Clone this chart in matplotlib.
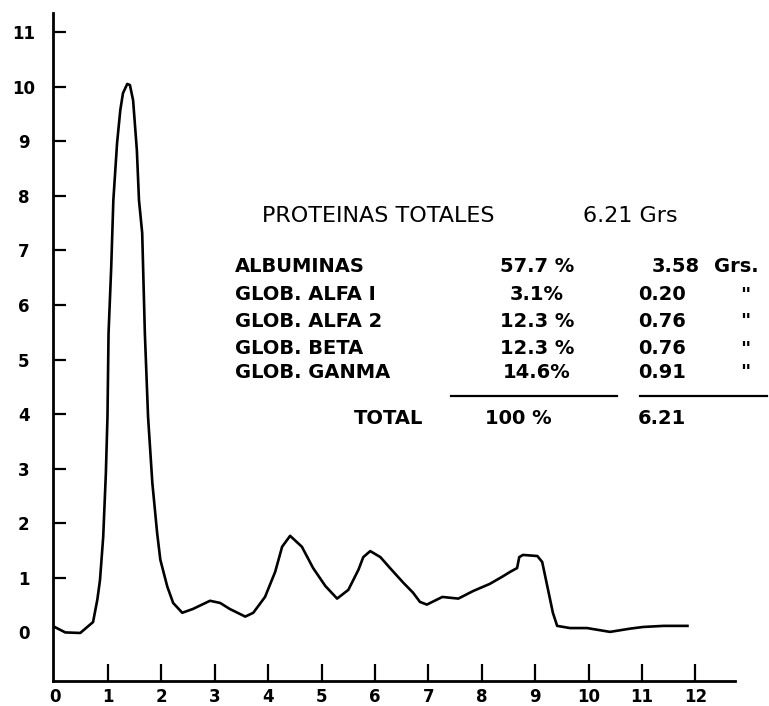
import numpy as np
import matplotlib
matplotlib.use("Agg")
import matplotlib.pyplot as plt
from matplotlib.lines import Line2D

# electrophoresis trace (distance, density)
trace_x = [0.00, 0.20, 0.48, 0.72, 0.80, 0.85, 0.91, 0.96, 0.99, 1.01,
           1.06, 1.10, 1.17, 1.23, 1.28, 1.36, 1.41, 1.47, 1.54, 1.58,
           1.64, 1.69, 1.75, 1.83, 1.92, 1.98, 2.11, 2.22, 2.39, 2.59,
           2.91, 3.10, 3.28, 3.57, 3.72, 3.94, 4.13, 4.26, 4.41, 4.63,
           4.84, 5.07, 5.29, 5.50, 5.69, 5.78, 5.91, 6.10, 6.28, 6.53,
           6.71, 6.84, 6.97, 7.26, 7.56, 7.84, 8.15, 8.38, 8.53, 8.66,
           8.70, 8.77, 9.04, 9.13, 9.24, 9.33, 9.41, 9.65, 9.97, 10.40,
           10.78, 11.02, 11.40, 11.85]
trace_y = [0.10, 0.00, -0.01, 0.19, 0.60, 0.96, 1.75, 2.92, 3.95, 5.48,
           6.69, 7.92, 8.97, 9.57, 9.88, 10.05, 10.03, 9.75, 8.84, 7.92,
           7.32, 5.48, 3.95, 2.74, 1.82, 1.33, 0.84, 0.54, 0.36, 0.43,
           0.58, 0.54, 0.43, 0.29, 0.36, 0.65, 1.11, 1.57, 1.77, 1.57,
           1.18, 0.85, 0.62, 0.78, 1.15, 1.38, 1.49, 1.38, 1.18, 0.91,
           0.73, 0.56, 0.51, 0.65, 0.62, 0.76, 0.89, 1.02, 1.11, 1.18,
           1.38, 1.42, 1.40, 1.29, 0.78, 0.36, 0.12, 0.08, 0.08, 0.01,
           0.07, 0.10, 0.12, 0.12]

x_ticks = list(range(0, 13))
y_ticks = list(range(0, 12))

fractions = ["ALBUMINAS", "GLOB. ALFA I", "GLOB. ALFA 2", "GLOB. BETA", "GLOB. GANMA"]
pct_labels = ["57.7 %", "3.1%", "12.3 %", "12.3 %", "14.6%"]
grams = [3.58, 0.20, 0.76, 0.76, 0.91]
gram_units = ["Grs.", '"', '"', '"', '"']
total_pct = "100 %"
total_grams = 6.21

W, H = 769, 706
fig = plt.figure(figsize=(W / 100, H / 100), dpi=100)


def fx(px):
    return px / W


def fy(py):
    return 1 - py / H


# axes box: left spine at x=53 px, bottom spine at y=681 px
ax = fig.add_axes([fx(53), fy(681), (735 - 53) / W, (681 - 13) / H])
ax.plot(trace_x, trace_y, color="black", lw=1.9, solid_joinstyle="round")

ax.set_xlim(-0.03, 12.74)
ax.set_ylim(-0.89, 11.35)
ax.spines["top"].set_visible(False)
ax.spines["right"].set_visible(False)
for s in ("left", "bottom"):
    ax.spines[s].set_linewidth(2.0)

ax.set_xticks(x_ticks)
ax.set_xticklabels([str(v) for v in x_ticks])
ax.set_yticks(y_ticks)
ax.set_yticklabels([str(v) for v in y_ticks])
ax.tick_params(axis="x", direction="in", length=12, width=1.6, pad=5,
               labelsize=12)
ax.tick_params(axis="y", direction="in", length=9, width=1.6, pad=21,
               labelsize=12)
for lab in ax.get_yticklabels():
    lab.set_horizontalalignment("center")
    lab.set_fontweight("bold")
for lab in ax.get_xticklabels():
    lab.set_fontweight("bold")
# no tick mark at the origin
ax.xaxis.get_major_ticks()[0].tick1line.set_visible(False)
ax.yaxis.get_major_ticks()[0].tick1line.set_visible(False)

# table of fractions
fig.text(fx(262), fy(216), "PROTEINAS TOTALES", fontsize=16,
         ha="left", va="center")
fig.text(fx(583), fy(216), "6.21 Grs", fontsize=16, ha="left", va="center")

row_y = [267, 295, 322, 349, 373]
fs = 14
for i, name in enumerate(fractions):
    y = fy(row_y[i])
    fig.text(fx(235), y, name, fontsize=fs, fontweight="bold",
             ha="left", va="center")
    fig.text(fx(537), y, pct_labels[i], fontsize=fs, fontweight="bold",
             ha="center", va="center")
    gx = 652 if i == 0 else 638
    fig.text(fx(gx), y, "%.2f" % grams[i], fontsize=fs, fontweight="bold",
             ha="left", va="center")
    if i == 0:
        fig.text(fx(714), y, gram_units[i], fontsize=fs, fontweight="bold",
                 ha="left", va="center")
    else:
        fig.text(fx(745), y, gram_units[i], fontsize=fs, fontweight="bold",
                 ha="center", va="center")

fig.add_artist(Line2D([fx(451), fx(617)], [fy(396), fy(396)],
                      color="black", lw=1.6))
fig.add_artist(Line2D([fx(640), fx(767)], [fy(396), fy(396)],
                      color="black", lw=1.6))

fig.text(fx(423), fy(418), "TOTAL", fontsize=fs, fontweight="bold",
         ha="right", va="center")
fig.text(fx(518), fy(418), total_pct, fontsize=fs, fontweight="bold",
         ha="center", va="center")
fig.text(fx(638), fy(418), "%.2f" % total_grams, fontsize=fs,
         fontweight="bold", ha="left", va="center")

fig.savefig("out.png", dpi=100)
